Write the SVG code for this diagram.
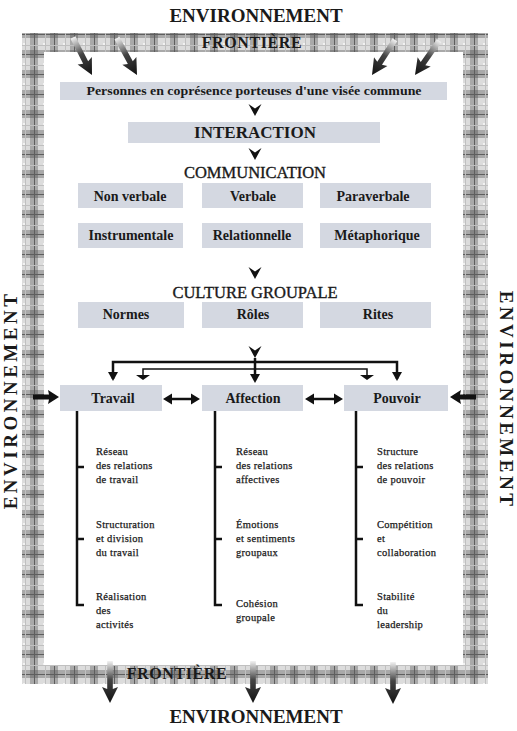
<svg xmlns="http://www.w3.org/2000/svg" width="517" height="731" viewBox="0 0 517 731">
<style>
.t{font-family:"Liberation Serif","Times New Roman",serif;fill:#1a1a1a}
.big{font-size:19px;font-weight:bold}
.fr{font-size:16px;font-weight:bold;letter-spacing:0.6px}
.hd{font-size:16.5px;stroke:#1a1a1a;stroke-width:0.35}
.bx{font-size:14px;font-weight:bold;text-anchor:middle}
.sm{font-size:10.5px;letter-spacing:0.3px;stroke:#1a1a1a;stroke-width:0.25}
.box{fill:#d4d8e1}
.ln{stroke:#111;stroke-width:2.5;fill:none}
.thin{stroke:#111;stroke-width:1.5;fill:none}
.ah{fill:#111}
</style>
<defs>
<pattern id="plaid" width="20" height="20" patternUnits="userSpaceOnUse">
<rect width="20" height="20" fill="#dcdcdc"/>
<rect x="10" y="0" width="8" height="20" fill="#a9a9a9"/>
<rect x="0" y="10" width="20" height="8" fill="#a9a9a9"/>
<rect x="10" y="10" width="8" height="8" fill="#858585"/>
<rect x="14" y="0" width="1" height="20" fill="#5e5e5e"/>
<rect x="0" y="14" width="20" height="1" fill="#5e5e5e"/>
<rect x="3" y="3" width="3" height="3" fill="#f2f2f2"/>
<rect x="5" y="0" width="1" height="20" fill="#c0c0c0"/>
<rect x="0" y="5" width="20" height="1" fill="#c0c0c0"/>
</pattern>
<linearGradient id="fade" x1="0" y1="0" x2="0" y2="1">
<stop offset="0" stop-color="#f2f2f2"/>
<stop offset="0.45" stop-color="#444"/>
<stop offset="1" stop-color="#111"/>
</linearGradient>
<path id="bigArrow" d="M-2.8,-42 L2.8,-42 L2.8,-14 L8,-16 L0,0 L-8,-16 L-2.8,-14 Z"/>
<path id="sideArrow" d="M-2.4,-26 L2.4,-26 L2.4,-10 L7,-11 L0,0 L-7,-11 L-2.4,-10 Z"/>
<path id="yArrow" d="M-6.5,0 L0,4.5 L6.5,0 L0,12 Z"/>
</defs>
<rect width="517" height="731" fill="#fff"/>

<g id="frame">
<path d="M22,33 H488 V684 H22 Z M44,52 V665 H463 V52 Z" fill="url(#plaid)" fill-rule="evenodd"/>
<text class="t fr" x="252" y="48" text-anchor="middle">FRONTIÈRE</text>
<text class="t fr" x="177" y="679" text-anchor="middle">FRONTIÈRE</text>
</g>

<g id="environment">
<text class="t big" x="256" y="22" text-anchor="middle">ENVIRONNEMENT</text>
<text class="t big" x="256" y="723" text-anchor="middle">ENVIRONNEMENT</text>
<text class="t big" x="0" y="0" text-anchor="middle" letter-spacing="3.5" transform="translate(17,400) rotate(-90)">ENVIRONNEMENT</text>
<text class="t big" x="0" y="0" text-anchor="middle" letter-spacing="3.5" transform="translate(500,400) rotate(90)">ENVIRONNEMENT</text>
</g>

<g id="personnes">
<rect class="box" x="60" y="82" width="387" height="18"/>
<text class="t" x="254" y="95" text-anchor="middle" font-size="13.5" font-weight="bold" textLength="335" lengthAdjust="spacingAndGlyphs">Personnes en coprésence porteuses d'une visée commune</text>
</g>

<g id="interaction">
<rect class="box" x="128" y="122" width="252" height="21"/>
<text class="t" x="255" y="138" text-anchor="middle" font-size="17" font-weight="bold">INTERACTION</text>
</g>

<g id="communication">
<text class="t hd" x="255" y="178" text-anchor="middle">COMMUNICATION</text>
</g>
<g id="non-verbale"><rect class="box" x="78" y="183" width="105" height="25"/><text class="t bx" x="130" y="201">Non verbale</text></g>
<g id="verbale"><rect class="box" x="202" y="183" width="101" height="25"/><text class="t bx" x="253" y="201">Verbale</text></g>
<g id="paraverbale"><rect class="box" x="320" y="183" width="111" height="25"/><text class="t bx" x="373" y="201">Paraverbale</text></g>
<g id="instrumentale"><rect class="box" x="78" y="223" width="105" height="25"/><text class="t bx" x="131" y="240">Instrumentale</text></g>
<g id="relationnelle"><rect class="box" x="202" y="223" width="101" height="25"/><text class="t bx" x="252" y="240">Relationnelle</text></g>
<g id="metaphorique"><rect class="box" x="320" y="223" width="111" height="25"/><text class="t bx" x="377" y="240">Métaphorique</text></g>

<g id="culture">
<text class="t hd" x="255" y="298" text-anchor="middle">CULTURE GROUPALE</text>
</g>
<g id="normes"><rect class="box" x="78" y="302" width="106" height="26"/><text class="t bx" x="126" y="319">Normes</text></g>
<g id="roles"><rect class="box" x="202" y="302" width="101" height="26"/><text class="t bx" x="253" y="319">Rôles</text></g>
<g id="rites"><rect class="box" x="320" y="302" width="111" height="26"/><text class="t bx" x="378" y="319">Rites</text></g>

<g id="travail"><rect class="box" x="60" y="385" width="102" height="26"/><text class="t bx" x="113" y="403">Travail</text></g>
<g id="affection"><rect class="box" x="202" y="385" width="101" height="26"/><text class="t bx" x="253" y="403">Affection</text></g>
<g id="pouvoir"><rect class="box" x="344" y="385" width="104" height="26"/><text class="t bx" x="397" y="403">Pouvoir</text></g>

<g id="travail-items" class="t sm">
<text x="96" y="455">Réseau</text><text x="96" y="469">des relations</text><text x="96" y="483">de travail</text>
<text x="96" y="528">Structuration</text><text x="96" y="542">et division</text><text x="96" y="556">du travail</text>
<text x="96" y="600">Réalisation</text><text x="96" y="614">des</text><text x="96" y="628">activités</text>
</g>
<g id="affection-items" class="t sm">
<text x="236" y="455">Réseau</text><text x="236" y="469">des relations</text><text x="236" y="483">affectives</text>
<text x="236" y="528">Émotions</text><text x="236" y="542">et sentiments</text><text x="236" y="556">groupaux</text>
<text x="236" y="607">Cohésion</text><text x="236" y="621">groupale</text>
</g>
<g id="pouvoir-items" class="t sm">
<text x="377" y="455">Structure</text><text x="377" y="469">des relations</text><text x="377" y="483">de pouvoir</text>
<text x="377" y="528">Compétition</text><text x="377" y="542">et</text><text x="377" y="556">collaboration</text>
<text x="377" y="600">Stabilité</text><text x="377" y="614">du</text><text x="377" y="628">leadership</text>
</g>

<g id="connectors">
<use href="#bigArrow" fill="url(#fade)" transform="translate(92,75) rotate(-27)"/>
<use href="#bigArrow" fill="url(#fade)" transform="translate(137,75) rotate(-28.5)"/>
<use href="#bigArrow" fill="url(#fade)" transform="translate(372,75) rotate(33)"/>
<use href="#bigArrow" fill="url(#fade)" transform="translate(415,75) rotate(35)"/>
<use href="#bigArrow" fill="url(#fade)" transform="translate(110,703)"/>
<use href="#bigArrow" fill="url(#fade)" transform="translate(253,703)"/>
<use href="#bigArrow" fill="url(#fade)" transform="translate(393,704)"/>
<use href="#sideArrow" class="ah" transform="translate(59,397) rotate(-90)"/>
<use href="#sideArrow" class="ah" transform="translate(450,397) rotate(90)"/>
<use href="#yArrow" class="ah" transform="translate(255,104)"/>
<use href="#yArrow" class="ah" transform="translate(255,148)"/>
<use href="#yArrow" class="ah" transform="translate(255,267)"/>
<use href="#yArrow" class="ah" transform="translate(255,346)"/>
<path class="ln" d="M113,379 V362 H397 V379"/>
<path class="thin" d="M143,378 V369 H367 V378"/>
<path class="ln" d="M255,358 V378"/>
<path class="ah" d="M108,372 L118,372 L113,381 Z"/>
<path class="ah" d="M392,372 L402,372 L397,381 Z"/>
<path class="ah" d="M250,374 L260,374 L255,383 Z"/>
<path class="ah" d="M136,375 L150,375 L143,380 Z"/>
<path class="ah" d="M360,375 L374,375 L367,380 Z"/>
<path class="ln" d="M170,399 H193"/>
<path class="ah" d="M163,399 L172,393.5 L172,404.5 Z M200,399 L191,393.5 L191,404.5 Z"/>
<path class="ln" d="M312,399 H336"/>
<path class="ah" d="M305,399 L314,393.5 L314,404.5 Z M343,399 L334,393.5 L334,404.5 Z"/>
<path class="ln" d="M77,411 V605 H84 M77,467 H84 M77,539 H84"/>
<path class="ln" d="M215,411 V605 H222 M215,467 H222 M215,539 H222"/>
<path class="ln" d="M356,411 V605 H363 M356,467 H363 M356,539 H363"/>
</g>
</svg>
